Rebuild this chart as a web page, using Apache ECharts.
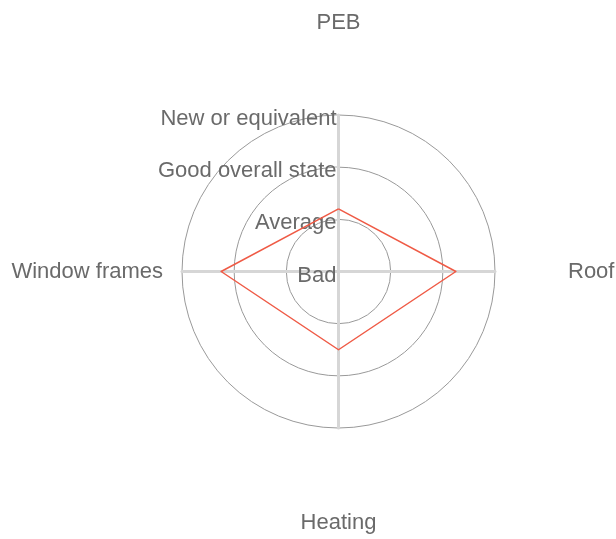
<!DOCTYPE html>
<html>
<head>
<meta charset="utf-8">
<script src="https://cdn.jsdelivr.net/npm/echarts@6/dist/echarts.min.js"></script>
<style>
html,body{margin:0;padding:0;background:#fff;}
#chart{width:616px;height:539px;}
</style>
</head>
<body>
<div id="chart"></div>
<script>
// Categories in clockwise order starting from the top
var categories = ['PEB', 'Roof', 'Heating', 'Window frames'];
var values = [1.2, 2.25, 1.5, 2.25];
var levelLabels = ['Bad', 'Average', 'Good overall state', 'New or equivalent'];

// ECharts radar runs counterclockwise: reorder to top, left, bottom, right
var order = [0, 3, 2, 1];
var gaps = {'PEB': 81, 'Roof': 73, 'Heating': 84, 'Window frames': 19};

var indicator = order.map(function (i, k) {
  var ind = {name: categories[i], min: 0, max: levelLabels.length - 1, nameGap: gaps[categories[i]]};
  if (k === 0) {
    ind.axisLabel = {show: true};
    ind.axisTick = {show: true};
  } else {
    ind.axisLabel = {show: false};
    ind.axisTick = {show: false};
  }
  return ind;
});

var chart = echarts.init(document.getElementById('chart'), null, {renderer: 'canvas'});
chart.setOption({
  animation: false,
  radar: {
    center: [338.5, 271.5],
    radius: 156.5,
    shape: 'circle',
    startAngle: 90,
    splitNumber: levelLabels.length - 1,
    indicator: indicator,
    axisName: {
      color: '#6a6a6a',
      fontSize: 22,
      fontFamily: 'Liberation Sans, Arial, sans-serif'
    },
    axisLine: {lineStyle: {color: '#d6d6d6', width: 3}},
    axisTick: {show: false, length: 4, lineStyle: {color: '#d6d6d6', width: 2}},
    axisLabel: {
      show: false,
      margin: 2,
      verticalAlign: 'top',
      lineHeight: 8,
      color: '#6a6a6a',
      fontSize: 22,
      fontFamily: 'Liberation Sans, Arial, sans-serif',
      formatter: function (v) { return levelLabels[Math.round(v)]; }
    },
    splitLine: {lineStyle: {color: '#999', width: 1}},
    splitArea: {show: false}
  },
  series: [{
    type: 'radar',
    symbol: 'none',
    lineStyle: {color: '#ef5a45', width: 1.5},
    itemStyle: {color: '#ef5a45'},
    data: [{value: order.map(function (i) { return values[i]; })}]
  }]
});
</script>
</body>
</html>
